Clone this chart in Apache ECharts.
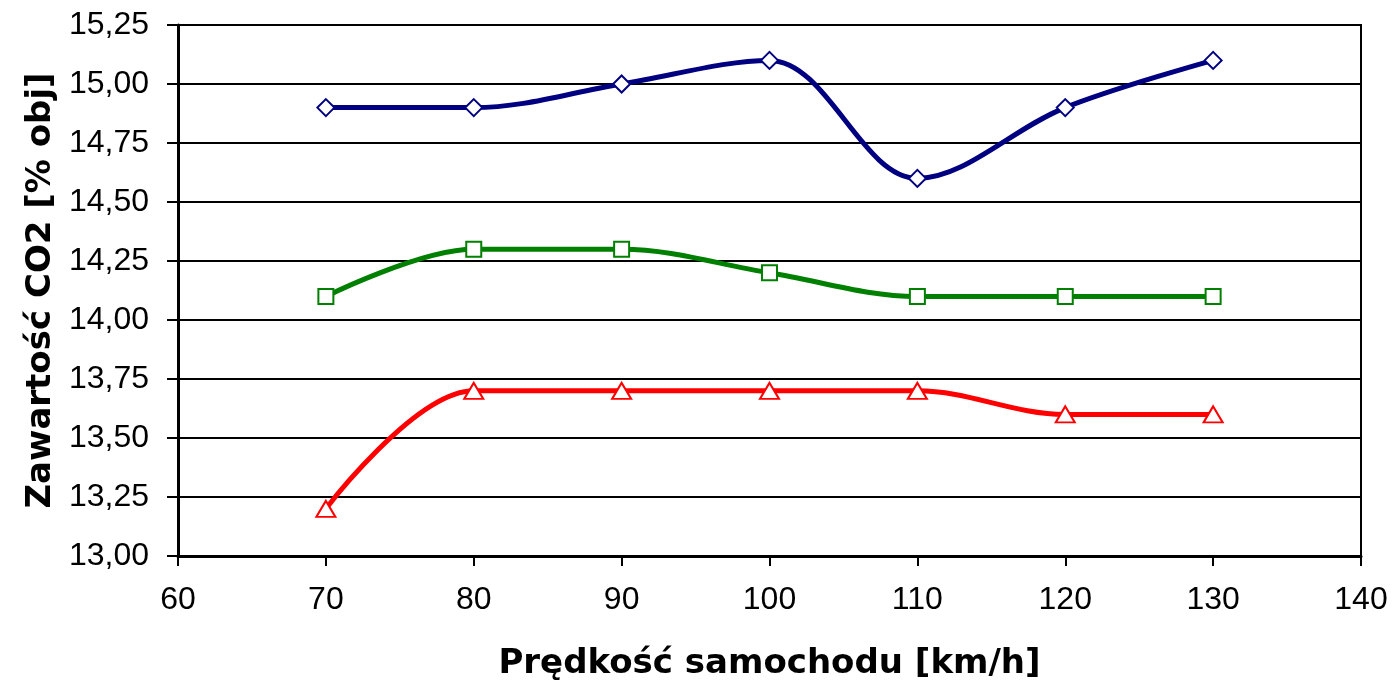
<!DOCTYPE html>
<html>
<head>
<meta charset="utf-8">
<script src="https://cdn.jsdelivr.net/npm/echarts@6/dist/echarts.min.js"></script>
<style>
  html, body { margin: 0; padding: 0; background: #fff; }
  #chart { width: 1392px; height: 693px; }
</style>
</head>
<body>
<div id="chart"></div>
<script>
// Vehicle speed [km/h]
const speeds = [70, 80, 90, 100, 110, 120, 130];
// CO2 content [% vol] for three measurement series
const seriesBlue = [14.9, 14.9, 15.0, 15.1, 14.6, 14.9, 15.1];
const seriesGreen = [14.1, 14.3, 14.3, 14.2, 14.1, 14.1, 14.1];
const seriesRed = [13.2, 13.7, 13.7, 13.7, 13.7, 13.6, 13.6];

const xTitle = 'Prędkość samochodu [km/h]';
const yTitle = 'Zawartość CO2 [% obj]';

const pair = (xs, ys) => xs.map((x, i) => [x, ys[i]]);

function lineSeries(values, color, symbol, size) {
  return {
    type: 'line',
    data: pair(speeds, values),
    smooth: 0.35,
    symbol: symbol,
    symbolSize: size,
    showAllSymbol: true,
    lineStyle: { color: color, width: 5 },
    itemStyle: { color: '#fff', borderColor: color, borderWidth: 2 },
    emphasis: { disabled: true },
    z: 3
  };
}

const titleFont = { fontSize: 34, fontWeight: 'bold', color: '#000', fontFamily: 'DejaVu Sans' };

const chart = echarts.init(document.getElementById('chart'), null, { renderer: 'canvas' });
chart.setOption({
  animation: false,
  backgroundColor: '#fff',
  textStyle: { fontFamily: 'Liberation Sans, Arial, sans-serif' },
  grid: {
    left: 178, right: 31, top: 25, bottom: 137,
    show: true, borderColor: '#000', borderWidth: 2, backgroundColor: 'transparent'
  },
  xAxis: {
    type: 'value',
    min: 60, max: 140, interval: 10,
    name: xTitle,
    nameLocation: 'middle',
    nameGap: 91,
    nameTextStyle: titleFont,
    axisLine: { show: true, onZero: false, lineStyle: { color: '#000', width: 3 } },
    axisTick: { show: true, length: 10, inside: false, lineStyle: { color: '#000', width: 2 } },
    axisLabel: { fontSize: 32, color: '#000', margin: 28 },
    splitLine: { show: false }
  },
  yAxis: {
    type: 'value',
    min: 13, max: 15.25, interval: 0.25,
    name: yTitle,
    nameLocation: 'middle',
    nameGap: 116,
    nameTextStyle: titleFont,
    axisLine: { show: true, lineStyle: { color: '#000', width: 3 } },
    axisTick: { show: true, length: 11, inside: false, lineStyle: { color: '#000', width: 2 } },
    axisLabel: {
      fontSize: 32, color: '#000', margin: 29,
      formatter: v => v.toFixed(2).replace('.', ',')
    },
    splitLine: { show: true, lineStyle: { color: '#000', width: 2 } }
  },
  series: [
    lineSeries(seriesBlue, '#000080', 'diamond', [17, 17]),
    lineSeries(seriesGreen, '#008000', 'rect', 15),
    lineSeries(seriesRed, '#ff0000', 'triangle', [19, 16])
  ]
});
</script>
</body>
</html>
